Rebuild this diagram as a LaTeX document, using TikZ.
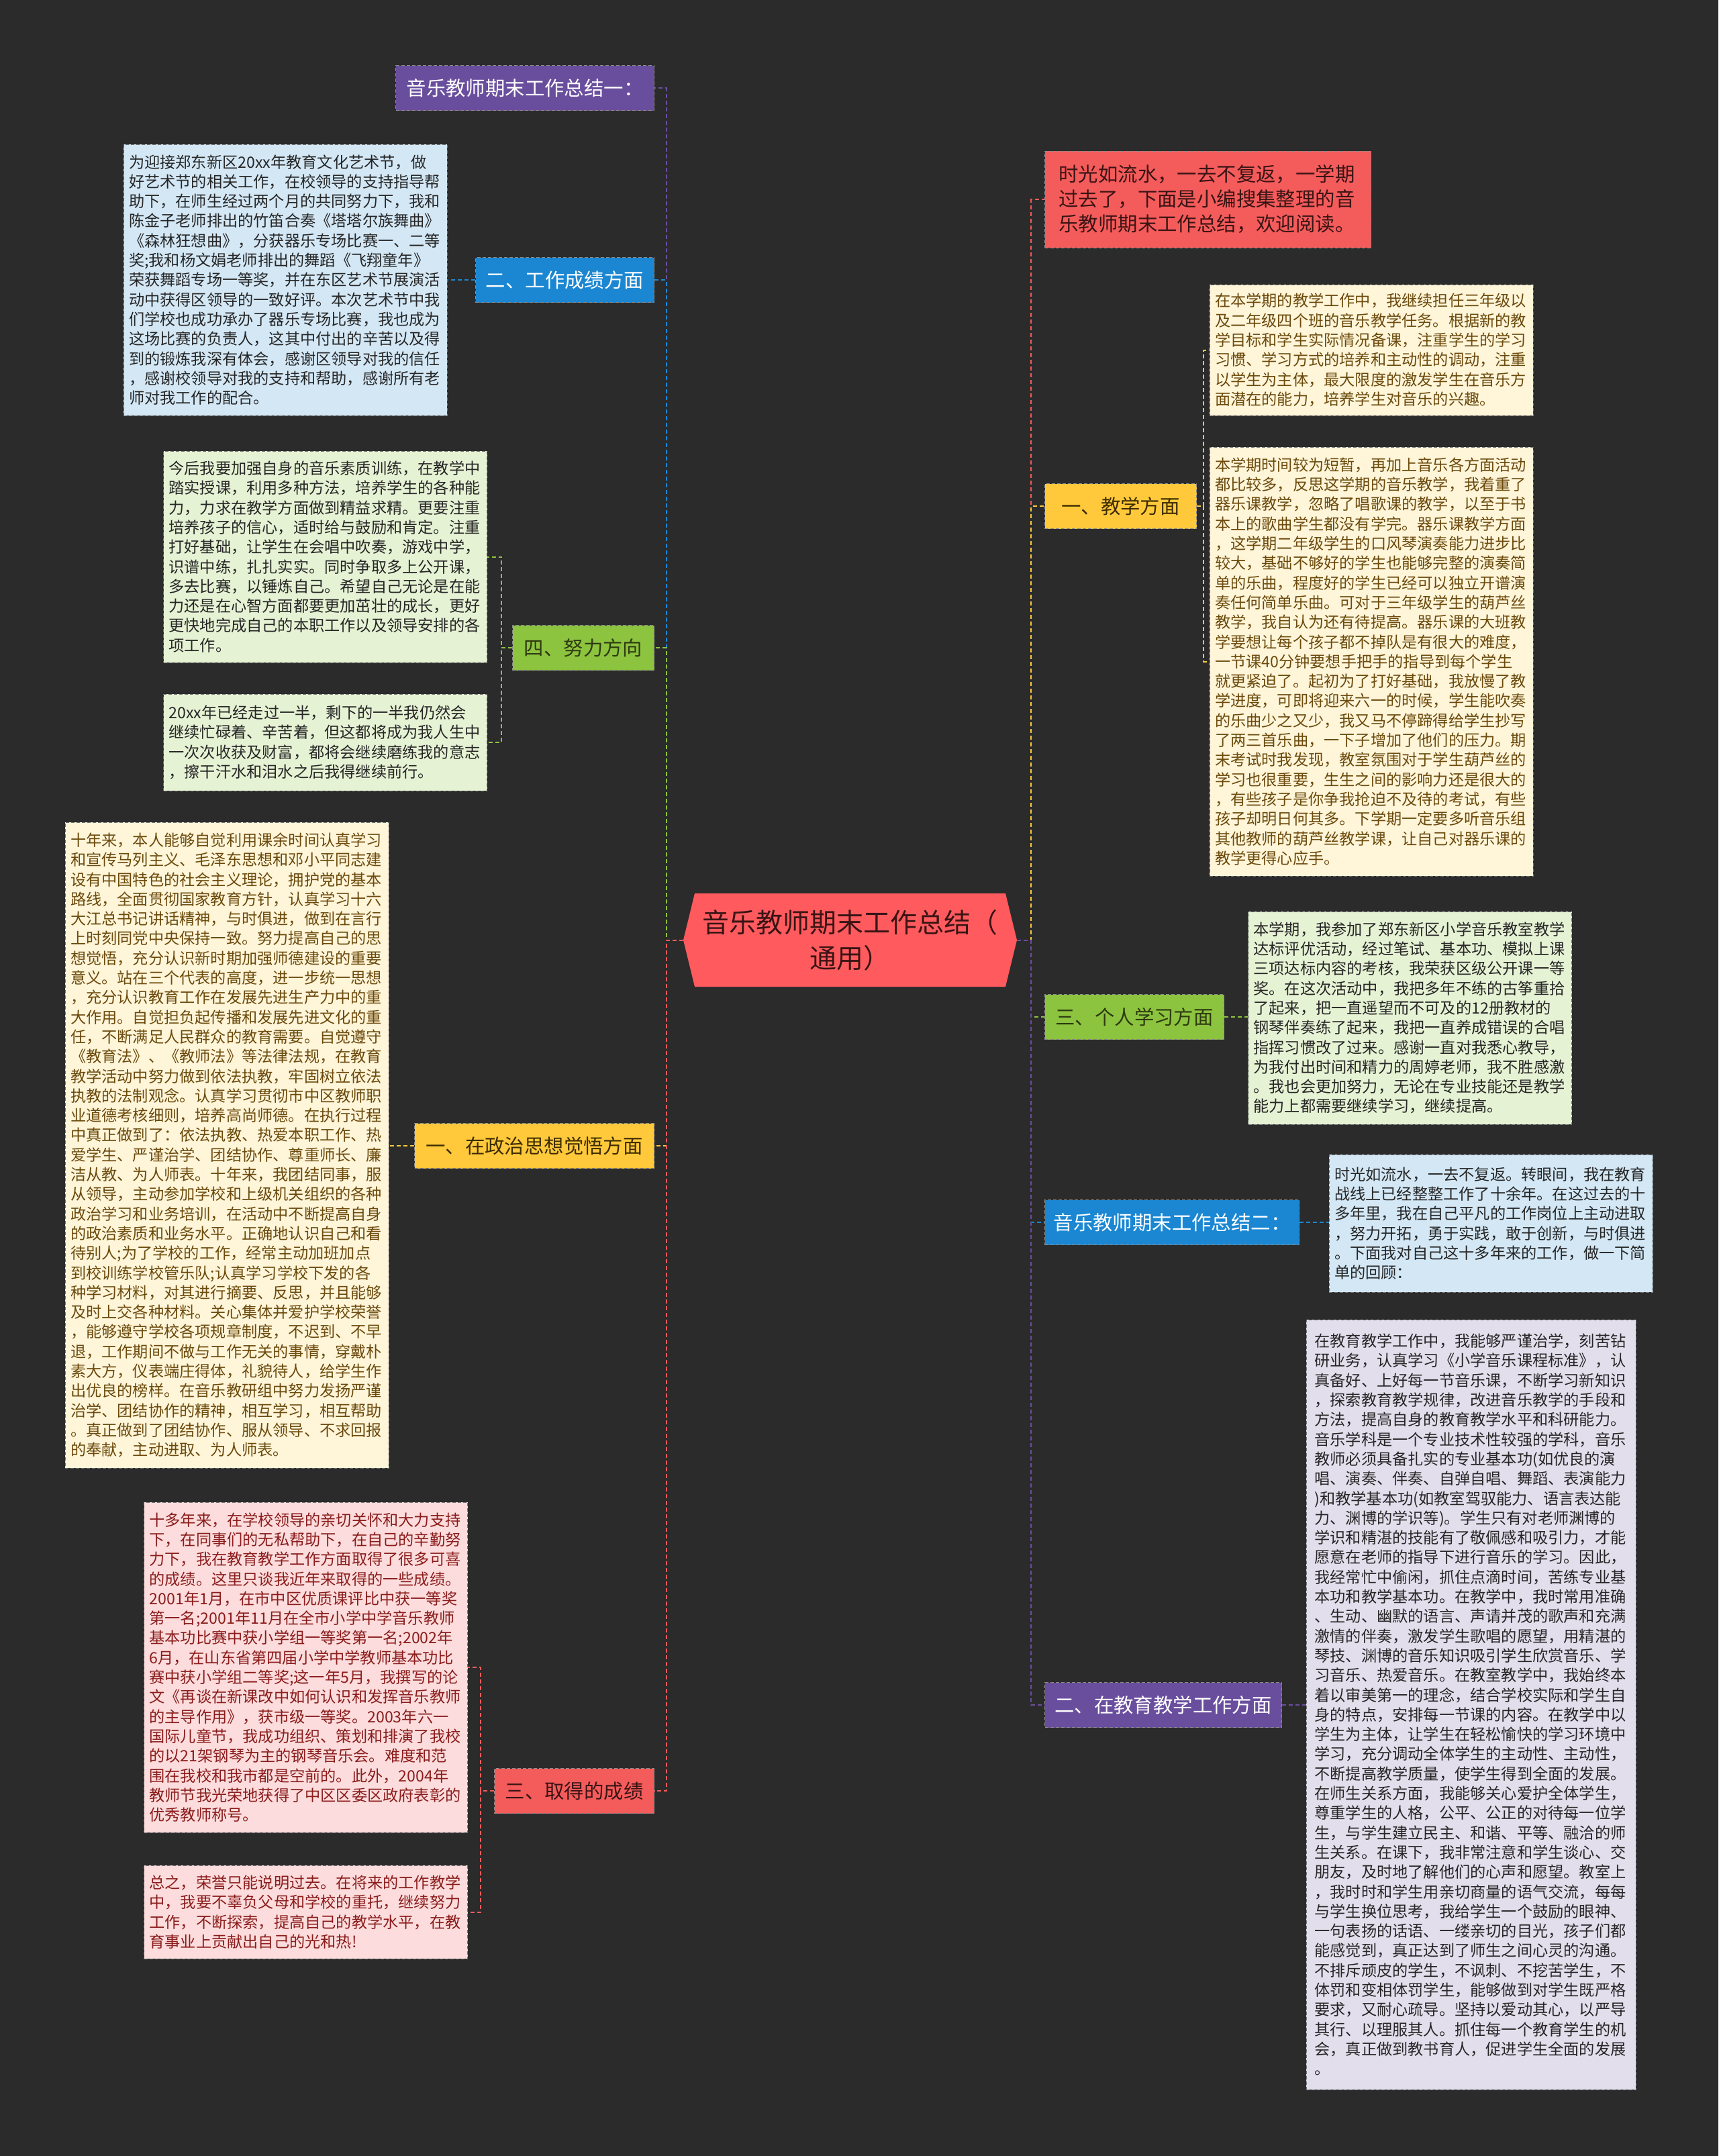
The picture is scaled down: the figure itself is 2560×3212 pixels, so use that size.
\documentclass[tikz,border=0pt]{standalone}
\usepackage{fontspec}
\setmainfont{Noto Sans CJK SC}
\usetikzlibrary{backgrounds}
\definecolor{bgc}{HTML}{2B2B2B}
\definecolor{cpurple}{HTML}{6A4E9E}
\definecolor{cblue}{HTML}{1B87D3}
\definecolor{cgreen}{HTML}{8CC33F}
\definecolor{cyellow}{HTML}{FFC93B}
\definecolor{cred}{HTML}{F45B5B}
\definecolor{rootred}{HTML}{FF5B5F}
\definecolor{lblue}{HTML}{D3E7F5}
\definecolor{lgreen}{HTML}{E6F2D4}
\definecolor{lyellow}{HTML}{FFF5D9}
\definecolor{lpink}{HTML}{FCDCDC}
\definecolor{lpurple}{HTML}{E2DEEC}
\definecolor{tbrown}{HTML}{6B4A0C}
\definecolor{tdred}{HTML}{8B1C1C}
\definecolor{tdark}{HTML}{262626}
\definecolor{tgreen}{HTML}{2E3B10}
\definecolor{tyellow}{HTML}{3D2C00}
\definecolor{tred}{HTML}{3A1414}
\tikzset{
  cbox/.style={draw=black!55, dash pattern=on 2.5pt off 1.5pt, line width=0.5pt,
    text width=233pt, inner xsep=4pt, inner ysep=4pt, align=left,
    font=\fontsize{11.6}{14.65}\selectfont},
  conn/.style={line width=1pt, dash pattern=on 3pt off 2pt},
  lab/.style={minimum height=33.5pt, inner sep=0pt, font=\fontsize{14.7}{17}\selectfont,
    draw=black!45, dash pattern=on 2.5pt off 1.5pt, line width=0.5pt},
}
\begin{document}
\begin{tikzpicture}[x=0.5pt,y=-0.5pt]
\useasboundingbox (0,0) rectangle (2560,3212);
\begin{scope}[on background layer]
\fill[bgc] (0,0) rectangle (2560,3212);
\end{scope}

% root
\fill[rootred] (1035,1331) -- (1498,1331) -- (1515,1400.5) -- (1498,1470) -- (1035,1470) -- (1018,1400.5) -- cycle;
\node[minimum width=248.5pt, minimum height=69.5pt, inner sep=0pt, align=center,
  text=tred, font=\fontsize{20}{26.5}\selectfont] (root) at (1266.5,1400.5) {音乐教师期末工作总结（\\通用）};

% left labels
\node[lab, fill=cpurple, text=white, minimum width=192.5pt, anchor=east] (L1) at (975,131) {音乐教师期末工作总结一：};
\node[lab, fill=cblue, text=white, minimum width=133pt, anchor=east] (L2) at (975,417) {二、工作成绩方面};
\node[lab, fill=cgreen, text=tgreen, minimum width=105.5pt, anchor=east] (L3) at (975,965) {四、努力方向};
\node[lab, fill=cyellow, text=tyellow, minimum width=178.5pt, anchor=east] (L4) at (975,1707) {一、在政治思想觉悟方面};
\node[lab, fill=cred, text=tred, minimum width=119pt, anchor=east] (L5) at (975,2668) {三、取得的成绩};

% right labels
\node[lab, fill=cred, text=tred, text width=222pt, inner xsep=10.5pt, minimum height=72pt, align=left,
  font=\fontsize{14.7}{18.5}\selectfont, anchor=west] (R1) at (1556,297) {时光如流水，一去不复返，一学期\\过去了，下面是小编搜集整理的音\\乐教师期末工作总结，欢迎阅读。};
\node[lab, fill=cyellow, text=tyellow, minimum width=113pt, anchor=west] (R2) at (1556,754) {一、教学方面};
\node[lab, fill=cgreen, text=tgreen, minimum width=133.5pt, anchor=west] (R3) at (1556,1515) {三、个人学习方面};
\node[lab, fill=cblue, text=white, minimum width=189.5pt, anchor=west] (R4) at (1556,1821) {音乐教师期末工作总结二：};
\node[lab, fill=cpurple, text=white, minimum width=176.5pt, anchor=west] (R5) at (1556,2540) {二、在教育教学工作方面};

% content boxes left
\node[cbox, fill=lblue, text=tdark, minimum height=202pt] (A) at (425,417) {为迎接郑东新区20xx年教育文化艺术节，做\\好艺术节的相关工作，在校领导的支持指导帮\\助下，在师生经过两个月的共同努力下，我和\\陈金子老师排出的竹笛合奏《塔塔尔族舞曲》\\《森林狂想曲》，分获器乐专场比赛一、二等\\奖;我和杨文娟老师排出的舞蹈《飞翔童年》\\荣获舞蹈专场一等奖，并在东区艺术节展演活\\动中获得区领导的一致好评。本次艺术节中我\\们学校也成功承办了器乐专场比赛，我也成为\\这场比赛的负责人，这其中付出的辛苦以及得\\到的锻炼我深有体会，感谢区领导对我的信任\\，感谢校领导对我的支持和帮助，感谢所有老\\师对我工作的配合。};

\node[cbox, fill=lgreen, text=tdark, minimum height=157.5pt] (B) at (484.5,829.5) {今后我要加强自身的音乐素质训练，在教学中\\踏实授课，利用多种方法，培养学生的各种能\\力，力求在教学方面做到精益求精。更要注重\\培养孩子的信心，适时给与鼓励和肯定。注重\\打好基础，让学生在会唱中吹奏，游戏中学，\\识谱中练，扎扎实实。同时争取多上公开课，\\多去比赛，以锤炼自己。希望自己无论是在能\\力还是在心智方面都要更加茁壮的成长，更好\\更快地完成自己的本职工作以及领导安排的各\\项工作。};

\node[cbox, fill=lgreen, text=tdark, minimum height=72pt] (C) at (484.5,1106) {20xx年已经走过一半，剩下的一半我仍然会\\继续忙碌着、辛苦着，但这都将成为我人生中\\一次次收获及财富，都将会继续磨练我的意志\\，擦干汗水和泪水之后我得继续前行。};

\node[cbox, fill=lyellow, text=tbrown, minimum height=481pt] (D) at (338,1706) {十年来，本人能够自觉利用课余时间认真学习\\和宣传马列主义、毛泽东思想和邓小平同志建\\设有中国特色的社会主义理论，拥护党的基本\\路线，全面贯彻国家教育方针，认真学习十六\\大江总书记讲话精神，与时俱进，做到在言行\\上时刻同党中央保持一致。努力提高自己的思\\想觉悟，充分认识新时期加强师德建设的重要\\意义。站在三个代表的高度，进一步统一思想\\，充分认识教育工作在发展先进生产力中的重\\大作用。自觉担负起传播和发展先进文化的重\\任，不断满足人民群众的教育需要。自觉遵守\\《教育法》、《教师法》等法律法规，在教育\\教学活动中努力做到依法执教，牢固树立依法\\执教的法制观念。认真学习贯彻市中区教师职\\业道德考核细则，培养高尚师德。在执行过程\\中真正做到了：依法执教、热爱本职工作、热\\爱学生、严谨治学、团结协作、尊重师长、廉\\洁从教、为人师表。十年来，我团结同事，服\\从领导，主动参加学校和上级机关组织的各种\\政治学习和业务培训，在活动中不断提高自身\\的政治素质和业务水平。正确地认识自己和看\\待别人;为了学校的工作，经常主动加班加点\\到校训练学校管乐队;认真学习学校下发的各\\种学习材料，对其进行摘要、反思，并且能够\\及时上交各种材料。关心集体并爱护学校荣誉\\，能够遵守学校各项规章制度，不迟到、不早\\退，工作期间不做与工作无关的事情，穿戴朴\\素大方，仪表端庄得体，礼貌待人，给学生作\\出优良的榜样。在音乐教研组中努力发扬严谨\\治学、团结协作的精神，相互学习，相互帮助\\。真正做到了团结协作、服从领导、不求回报\\的奉献，主动进取、为人师表。};

\node[cbox, fill=lpink, text=tdred, minimum height=246pt] (E) at (455.5,2484) {十多年来，在学校领导的亲切关怀和大力支持\\下，在同事们的无私帮助下，在自己的辛勤努\\力下，我在教育教学工作方面取得了很多可喜\\的成绩。这里只谈我近年来取得的一些成绩。\\2001年1月，在市中区优质课评比中获一等奖\\第一名;2001年11月在全市小学中学音乐教师\\基本功比赛中获小学组一等奖第一名;2002年\\6月，在山东省第四届小学中学教师基本功比\\赛中获小学组二等奖;这一年5月，我撰写的论\\文《再谈在新课改中如何认识和发挥音乐教师\\的主导作用》，获市级一等奖。2003年六一\\国际儿童节，我成功组织、策划和排演了我校\\的以21架钢琴为主的钢琴音乐会。难度和范\\围在我校和我市都是空前的。此外，2004年\\教师节我光荣地获得了中区区委区政府表彰的\\优秀教师称号。};

\node[cbox, fill=lpink, text=tdred, minimum height=69.5pt] (F) at (455.5,2848.5) {总之，荣誉只能说明过去。在将来的工作教学\\中，我要不辜负父母和学校的重托，继续努力\\工作，不断探索，提高自己的教学水平，在教\\育事业上贡献出自己的光和热!};

% content boxes right
\node[cbox, fill=lyellow, text=tbrown, minimum height=97.5pt] (G) at (2043,521.5) {在本学期的教学工作中，我继续担任三年级以\\及二年级四个班的音乐教学任务。根据新的教\\学目标和学生实际情况备课，注重学生的学习\\习惯、学习方式的培养和主动性的调动，注重\\以学生为主体，最大限度的激发学生在音乐方\\面潜在的能力，培养学生对音乐的兴趣。};

\node[cbox, fill=lyellow, text=tbrown, minimum height=319.5pt] (H) at (2043,985.5) {本学期时间较为短暂，再加上音乐各方面活动\\都比较多，反思这学期的音乐教学，我着重了\\器乐课教学，忽略了唱歌课的教学，以至于书\\本上的歌曲学生都没有学完。器乐课教学方面\\，这学期二年级学生的口风琴演奏能力进步比\\较大，基础不够好的学生也能够完整的演奏简\\单的乐曲，程度好的学生已经可以独立开谱演\\奏任何简单乐曲。可对于三年级学生的葫芦丝\\教学，我自认为还有待提高。器乐课的大班教\\学要想让每个孩子都不掉队是有很大的难度，\\一节课40分钟要想手把手的指导到每个学生\\就更紧迫了。起初为了打好基础，我放慢了教\\学进度，可即将迎来六一的时候，学生能吹奏\\的乐曲少之又少，我又马不停蹄得给学生抄写\\了两三首乐曲，一下子增加了他们的压力。期\\末考试时我发现，教室氛围对于学生葫芦丝的\\学习也很重要，生生之间的影响力还是很大的\\，有些孩子是你争我抢迫不及待的考试，有些\\孩子却明日何其多。下学期一定要多听音乐组\\其他教师的葫芦丝教学课，让自己对器乐课的\\教学更得心应手。};

\node[cbox, fill=lgreen, text=tdark, minimum height=158.5pt] (I) at (2100.5,1516.5) {本学期，我参加了郑东新区小学音乐教室教学\\达标评优活动，经过笔试、基本功、模拟上课\\三项达标内容的考核，我荣获区级公开课一等\\奖。在这次活动中，我把多年不练的古筝重拾\\了起来，把一直遥望而不可及的12册教材的\\钢琴伴奏练了起来，我把一直养成错误的合唱\\指挥习惯改了过来。感谢一直对我悉心教导，\\为我付出时间和精力的周婷老师，我不胜感激\\。我也会更加努力，无论在专业技能还是教学\\能力上都需要继续学习，继续提高。};

\node[cbox, fill=lblue, text=tdark, minimum height=102.5pt] (J) at (2221,1822.5) {时光如流水，一去不复返。转眼间，我在教育\\战线上已经整整工作了十余年。在这过去的十\\多年里，我在自己平凡的工作岗位上主动进取\\，努力开拓，勇于实践，敢于创新，与时俱进\\。下面我对自己这十多年来的工作，做一下简\\单的回顾：};

\node[cbox, fill=lpurple, text=tdark, inner xsep=6.25pt, minimum height=573.5pt] (K) at (2191.5,2539.5) {在教育教学工作中，我能够严谨治学，刻苦钻\\研业务，认真学习《小学音乐课程标准》，认\\真备好、上好每一节音乐课，不断学习新知识\\，探索教育教学规律，改进音乐教学的手段和\\方法，提高自身的教育教学水平和科研能力。\\音乐学科是一个专业技术性较强的学科，音乐\\教师必须具备扎实的专业基本功(如优良的演\\唱、演奏、伴奏、自弹自唱、舞蹈、表演能力\\)和教学基本功(如教室驾驭能力、语言表达能\\力、渊博的学识等)。学生只有对老师渊博的\\学识和精湛的技能有了敬佩感和吸引力，才能\\愿意在老师的指导下进行音乐的学习。因此，\\我经常忙中偷闲，抓住点滴时间，苦练专业基\\本功和教学基本功。在教学中，我时常用准确\\、生动、幽默的语言、声请并茂的歌声和充满\\激情的伴奏，激发学生歌唱的愿望，用精湛的\\琴技、渊博的音乐知识吸引学生欣赏音乐、学\\习音乐、热爱音乐。在教室教学中，我始终本\\着以审美第一的理念，结合学校实际和学生自\\身的特点，安排每一节课的内容。在教学中以\\学生为主体，让学生在轻松愉快的学习环境中\\学习，充分调动全体学生的主动性、主动性，\\不断提高教学质量，使学生得到全面的发展。\\在师生关系方面，我能够关心爱护全体学生，\\尊重学生的人格，公平、公正的对待每一位学\\生，与学生建立民主、和谐、平等、融洽的师\\生关系。在课下，我非常注意和学生谈心、交\\朋友，及时地了解他们的心声和愿望。教室上\\，我时时和学生用亲切商量的语气交流，每每\\与学生换位思考，我给学生一个鼓励的眼神、\\一句表扬的话语、一缕亲切的目光，孩子们都\\能感觉到，真正达到了师生之间心灵的沟通。\\不排斥顽皮的学生，不讽刺、不挖苦学生，不\\体罚和变相体罚学生，能够做到对学生既严格\\要求，又耐心疏导。坚持以爱动其心，以严导\\其行、以理服其人。抓住每一个教育学生的机\\会，真正做到教书育人，促进学生全面的发展\\。};

% root to labels, left
\draw[conn, cpurple] (root.west) -- ++(-25,0) |- (L1.east);
\draw[conn, cblue] (root.west) -- ++(-25,0) |- (L2.east);
\draw[conn, cgreen] (root.west) -- ++(-25,0) |- (L3.east);
\draw[conn, cyellow] (root.west) -- ++(-25,0) |- (L4.east);
\draw[conn, cred] (root.west) -- ++(-25,0) |- (L5.east);
% root to labels, right
\draw[conn, cred] (root.east) -- ++(21,0) |- (R1.west);
\draw[conn, cyellow] (root.east) -- ++(21,0) |- (R2.west);
\draw[conn, cgreen] (root.east) -- ++(21,0) |- (R3.west);
\draw[conn, cblue] (root.east) -- ++(21,0) |- (R4.west);
\draw[conn, cpurple] (root.east) -- ++(21,0) |- (R5.west);

% labels to content
\draw[conn, cblue] (L2.west) -- (A.east |- L2.west);
\draw[conn, cgreen] (L3.west) -- ++(-16,0) |- (B.east);
\draw[conn, cgreen] (L3.west) -- ++(-16,0) |- (C.east);
\draw[conn, cyellow] (L4.west) -- (D.east |- L4.west);
\draw[conn, cred] (L5.west) -- ++(-20,0) |- (E.east);
\draw[conn, cred] (L5.west) -- ++(-20,0) |- (F.east);
\draw[conn, cyellow] (R2.east) -- ++(10,0) |- (G.west);
\draw[conn, cyellow] (R2.east) -- ++(10,0) |- (H.west);
\draw[conn, cgreen] (R3.east) -- (I.west |- R3.east);
\draw[conn, cblue] (R4.east) -- (J.west |- R4.east);
\draw[conn, cpurple] (R5.east) -- (K.west |- R5.east);
\end{tikzpicture}
\end{document}
